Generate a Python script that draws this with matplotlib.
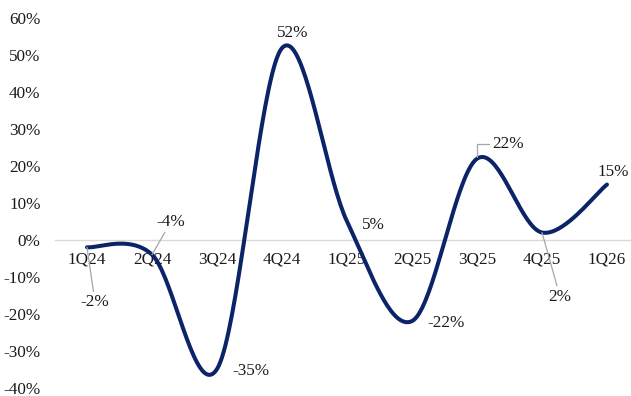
import numpy as np
import matplotlib
matplotlib.use("Agg")
import matplotlib.pyplot as plt

plt.rcParams['font.family'] = ['Liberation Serif', 'DejaVu Serif']

quarters = ['1Q24', '2Q24', '3Q24', '4Q24', '1Q25', '2Q25', '3Q25', '4Q25', '1Q26']
growth = [-2, -4, -35, 52, 5, -22, 22, 2, 15]
# label offsets in pixels from each point, and whether a leader line is drawn
label_offsets = [(8, -55), (19, 33), (34, -2), (11, 15), (26, -4), (34, -2), (31, 15), (18, -64), (6, 13)]
leaders = ['line', 'line', None, None, None, None, 'elbow', 'line', None]

navy = '#0b2467'
grey = '#a6a6a6'
text_col = '#1a1a1a'
fs = 12.3


def smooth_curve(xs, ys, steps=40):
    # spreadsheet-style smoothed line: cubic bezier through every point
    pts = np.column_stack([xs, ys]).astype(float)
    n = len(pts)
    out = []
    for i in range(n - 1):
        p0 = pts[max(i - 1, 0)]
        p1 = pts[i]
        p2 = pts[i + 1]
        p3 = pts[min(i + 2, n - 1)]
        c1 = p1 + (p2 - p0) / 6
        c2 = p2 - (p3 - p1) / 6
        t = np.linspace(0, 1, steps)[:, None]
        seg = ((1 - t) ** 3) * p1 + 3 * ((1 - t) ** 2) * t * c1 + 3 * (1 - t) * t ** 2 * c2 + t ** 3 * p2
        out.append(seg if i == 0 else seg[1:])
    curve = np.vstack(out)
    return curve[:, 0], curve[:, 1]


fig = plt.figure(figsize=(6.31, 3.96), dpi=100)
ax = fig.add_axes([54.5 / 631, 1 - 387.5 / 396, 585 / 631, 369 / 396])

x = np.arange(len(quarters))
cx, cy = smooth_curve(x, growth)
ax.plot(cx, cy, color=navy, lw=2.9, solid_capstyle='round', zorder=3)

ax.set_xlim(-0.5, len(quarters) - 0.5)
ax.set_ylim(-40, 60)
ax.set_yticks(range(-40, 61, 10))
ax.set_yticklabels([f'{v}%' for v in range(-40, 61, 10)])
ax.set_xticks(x)
ax.set_xticklabels(quarters)

for side in ['top', 'right', 'left']:
    ax.spines[side].set_visible(False)
ax.spines['bottom'].set_position(('data', 0))
ax.spines['bottom'].set_color('#d9d9d9')
ax.spines['bottom'].set_linewidth(1.0)
ax.tick_params(axis='x', length=0, pad=8, labelsize=fs, colors=text_col)
ax.tick_params(axis='y', length=0, pad=10, labelsize=fs, colors=text_col)

for i, v in enumerate(growth):
    dx, dy = label_offsets[i]
    props = None
    if leaders[i] == 'line':
        props = dict(arrowstyle='-', color=grey, lw=0.9, shrinkA=0, shrinkB=0)
    elif leaders[i] == 'elbow':
        props = dict(arrowstyle='-', color=grey, lw=0.9, shrinkA=0, shrinkB=1,
                     connectionstyle='angle,angleA=0,angleB=90,rad=0', relpos=(0, 0.5))
    ax.annotate(f'{v}%', xy=(i, v), xytext=(dx, dy), textcoords='offset pixels',
                ha='center', va='center', fontsize=fs, color=text_col,
                arrowprops=props, zorder=4)

fig.savefig('out.png', dpi=100)
